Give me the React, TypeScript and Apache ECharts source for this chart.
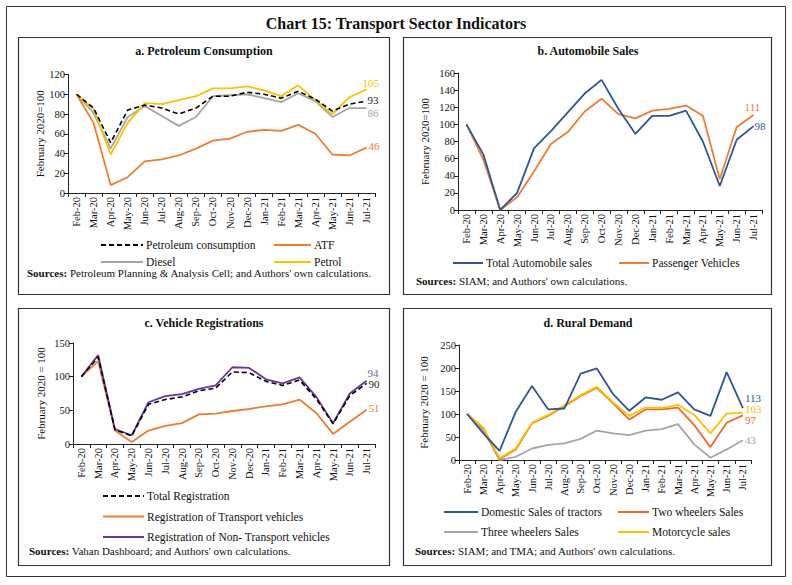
import React, { useEffect, useRef } from "react";
import * as echarts from "echarts";

const months = ["Feb-20","Mar-20","Apr-20","May-20","Jun-20","Jul-20","Aug-20","Sep-20","Oct-20","Nov-20","Dec-20","Jan-21","Feb-21","Mar-21","Apr-21","May-21","Jun-21","Jul-21"];

// a. Petroleum Consumption
const petroleum = [100,86,51,84,89,86,80,86,98,98,102,100,96,103,95,83,90,93];
const atf = [100,71,8,16,32,34,38,45,53,55,62,64,63,69,60,39,38,46];
const diesel = [100,81,45,77,88,78,68,77,98,99,100,96,92,101,93,77,86,86];
const petrol = [100,85,39,71,91,90,94,98,106,106,108,104,98,109,94,80,97,105];

// b. Automobile Sales
const totalAuto = [100,65,0,20,72,92,114,136,152,118,89,110,110,116,80,28,82,98];
const passenger = [100,59,0,15,45,77,91,115,130,112,107,116,118,122,110,36,97,111];

// c. Vehicle Registrations
const totalReg = [100,129,21,12,59,66,70,79,83,107,106,93,87,95,67,30,72,90];
const transportReg = [100,123,20,3,20,27,31,44,45,49,52,56,59,66,46,15,33,51];
const nonTransportReg = [100,132,22,13,62,71,74,82,87,114,113,96,90,99,70,31,75,94];

// d. Rural Demand
const tractors = [100,58,20,105,161,110,112,188,199,143,107,136,131,147,110,96,191,113];
const twoWheelers = [100,69,2,23,80,96,117,139,157,123,88,110,110,114,76,28,81,97];
const threeWheelers = [100,65,0,7,25,33,36,46,64,58,54,64,67,78,34,5,23,43];
const motorcycles = [100,70,4,25,81,98,119,141,159,125,96,114,113,120,98,58,101,103];

const FONT = "Liberation Serif";
const AXIS = "#222";

function xAxis(gridIndex: number) {
  return {
    type: "category",
    gridIndex,
    data: months,
    boundaryGap: true,
    axisLine: { lineStyle: { color: AXIS, width: 1 } },
    axisTick: { show: true, length: 4, lineStyle: { color: AXIS } },
    axisLabel: { interval: 0, rotate: 90, margin: 4, fontSize: 10.5, color: "#111", fontFamily: FONT },
    splitLine: { show: false },
  };
}

function yAxis(gridIndex: number, max: number, interval: number, name: string, nameGap: number) {
  return {
    type: "value",
    gridIndex,
    min: 0,
    max,
    interval,
    name,
    nameLocation: "middle",
    nameGap,
    nameTextStyle: { fontSize: 11, color: "#111", fontFamily: FONT },
    axisLine: { show: true, lineStyle: { color: AXIS, width: 1 } },
    axisTick: { show: true, length: 4, lineStyle: { color: AXIS } },
    axisLabel: { fontSize: 10.5, margin: 3, color: "#111", fontFamily: FONT },
    splitLine: { show: false },
  };
}

function line(name: string, data: number[], idx: number, color: string, opts: any = {}) {
  const s: any = {
    type: "line",
    name,
    data,
    xAxisIndex: idx,
    yAxisIndex: idx,
    symbol: "none",
    lineStyle: { color, width: opts.width ?? 1.8, type: opts.dash ? [5, 3] : "solid" },
    itemStyle: { color },
    z: opts.z ?? 2,
  };
  if (opts.label) {
    s.endLabel = {
      show: true,
      formatter: (p: any) => String(p.value),
      color: opts.labelColor ?? color,
      fontSize: 11,
      fontFamily: FONT,
      distance: 0,
      offset: opts.label,
    };
  }
  return s;
}

function legend(names: string[], left: number, top: number, itemWidth: number, gap: number) {
  return {
    data: names,
    orient: "vertical",
    left,
    top,
    padding: 0,
    itemWidth,
    itemHeight: 10,
    itemGap: gap,
    selectedMode: false,
    itemStyle: { opacity: 0 },
    textStyle: { fontSize: 11.5, color: "#111", fontFamily: FONT, padding: [0, 0, 0, -2] },
  };
}

function frame(x: number, y: number, w: number, h: number, lw = 1.2) {
  return { type: "rect", shape: { x, y, width: w, height: h }, style: { fill: "none", stroke: "#333", lineWidth: lw }, silent: true };
}

function txt(x: number, y: number, text: string, size: number, bold: boolean, align = "center") {
  return {
    type: "text",
    x,
    y,
    style: { text, fontSize: size, fontWeight: bold ? "bold" : "normal", fontFamily: FONT, fill: "#111", align, verticalAlign: "middle" },
  };
}

function sources(x: number, y: number, rest: string) {
  return {
    type: "text",
    x,
    y,
    style: {
      text: "{b|Sources:} " + rest,
      fontSize: 11,
      fontFamily: FONT,
      fill: "#111",
      verticalAlign: "middle",
      rich: { b: { fontWeight: "bold", fontSize: 11, fontFamily: FONT, fill: "#111" } },
    },
  };
}

export default function App() {
  const ref = useRef<HTMLDivElement>(null);
  useEffect(() => {
    const chart = echarts.init(ref.current!, null, { renderer: "svg" });
    chart.setOption({
      animation: false,
      backgroundColor: "#fff",
      textStyle: { fontFamily: FONT },
      grid: [
        { left: 68, top: 74.5, width: 307, height: 118.5 },
        { left: 458, top: 73, width: 304, height: 137 },
        { left: 73, top: 343, width: 302, height: 101 },
        { left: 459, top: 345, width: 292, height: 115 },
      ],
      xAxis: [xAxis(0), xAxis(1), xAxis(2), xAxis(3)],
      yAxis: [
        yAxis(0, 120, 20, "February 2020=100", 22),
        yAxis(1, 160, 20, "February 2020=100", 28),
        yAxis(2, 150, 50, "February 2020 = 100", 27),
        yAxis(3, 250, 50, "February 2020 = 100", 30),
      ],
      legend: [
        legend(["Petroleum consumption", "Diesel"], 100, 239, 42, 5),
        legend(["ATF", "Petrol"], 273, 239, 37, 5),
        legend(["Total Automobile sales"], 452, 257, 30, 5),
        legend(["Passenger Vehicles"], 618, 257, 30, 5),
        legend(["Total Registration", "Registration of Transport vehicles", "Registration of Non- Transport vehicles"], 102, 490, 41, 8.5),
        legend(["Domestic Sales of tractors", "Three wheelers Sales"], 443, 506, 34, 8),
        legend(["Two wheelers Sales", "Motorcycle sales"], 617, 506, 31, 8),
      ],
      series: [
        line("ATF", atf, 0, "#ed7d31", { label: [2, -2] }),
        line("Diesel", diesel, 0, "#a5a5a5", { label: [1, 5] }),
        line("Petrol", petrol, 0, "#ffc000", { label: [-4, -6] }),
        line("Petroleum consumption", petroleum, 0, "#000", { dash: true, width: 1.6, z: 3, label: [1, -1], labelColor: "#222" }),

        line("Passenger Vehicles", passenger, 1, "#ed7d31", { label: [-9, -8] }),
        line("Total Automobile sales", totalAuto, 1, "#2f5597", { label: [1, 0] }),

        line("Registration of Transport vehicles", transportReg, 2, "#ed7d31", { label: [2, -2] }),
        line("Registration of Non- Transport vehicles", nonTransportReg, 2, "#6a3596", { label: [1, -8], labelColor: "#8064a2" }),
        line("Total Registration", totalReg, 2, "#000", { dash: true, width: 1.6, z: 3, label: [2, 1], labelColor: "#222" }),

        line("Three wheelers Sales", threeWheelers, 3, "#a5a5a5", { label: [2, 0] }),
        line("Two wheelers Sales", twoWheelers, 3, "#ec6a2c", { label: [2, 5] }),
        line("Motorcycle sales", motorcycles, 3, "#ffc000", { label: [2, -4] }),
        line("Domestic Sales of tractors", tractors, 3, "#2f5597", { label: [2, -10] }),
      ],
      graphic: [
        frame(6.5, 6.5, 779, 570, 1),
        frame(18.5, 37.5, 371, 257),
        frame(403.5, 37.5, 368, 257),
        frame(18.5, 308.5, 371, 257),
        frame(403.5, 308.5, 368, 257),
        txt(396, 23, "Chart 15: Transport Sector Indicators", 16, true),
        txt(204, 51, "a. Petroleum Consumption", 12, true),
        txt(588, 51, "b. Automobile Sales", 12, true),
        txt(204, 323, "c. Vehicle Registrations", 12, true),
        txt(588, 323, "d. Rural Demand", 12, true),
        sources(27, 273, "Petroleum Planning & Analysis Cell; and Authors' own calculations."),
        sources(416, 281, "SIAM; and Authors' own calculations."),
        sources(29, 551, "Vahan Dashboard; and Authors' own calculations."),
        sources(415, 551, "SIAM; and TMA; and Authors' own calculations."),
      ],
    });
    return () => chart.dispose();
  }, []);
  return <div ref={ref} style={{ position: "absolute", left: 0, top: 0, width: 792, height: 585, background: "#fff" }} />;
}
